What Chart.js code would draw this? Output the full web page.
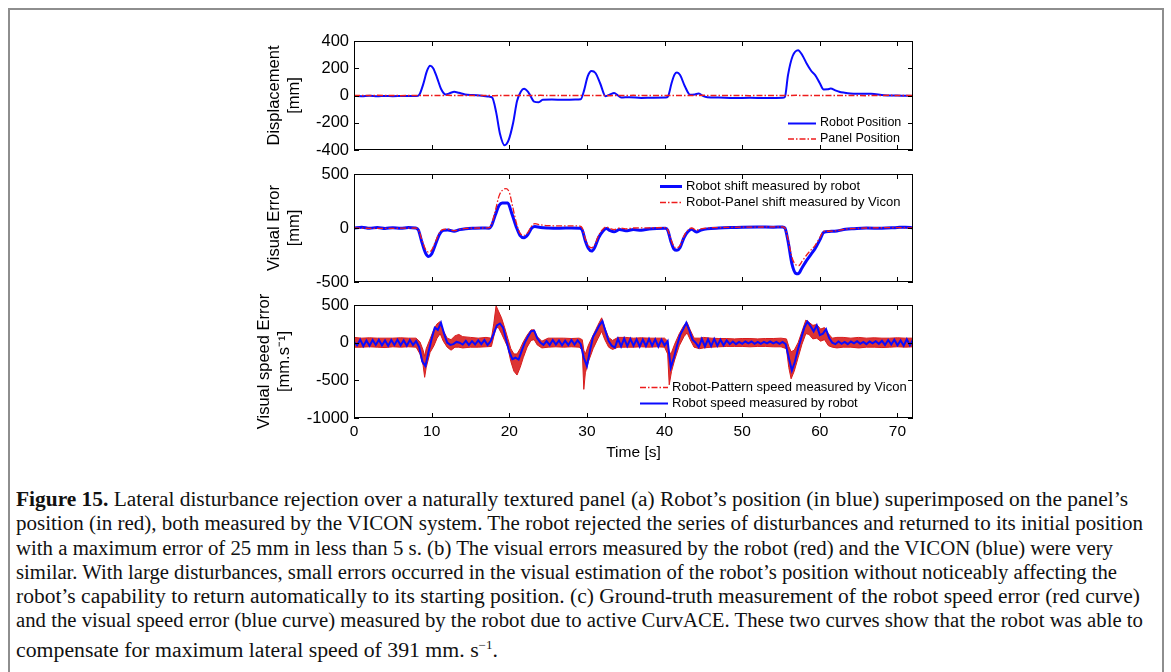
<!DOCTYPE html>
<html>
<head>
<meta charset="utf-8">
<script src="https://cdn.jsdelivr.net/npm/chart.js@4.4.1/dist/chart.umd.min.js"></script>
<style>
  html, body { margin: 0; padding: 0; background: #fff; overflow: hidden; }
  #page { position: relative; width: 1171px; height: 672px; overflow: hidden; background: #fff; }
  #frame { position: absolute; left: 8px; top: 8px; width: 1152px; height: 720px; border: 2px solid #8e8e8e; }
  canvas.panel { position: absolute; }
  #caption { position: absolute; left: 16px; top: 487px; font-family: "Liberation Serif", "DejaVu Serif", serif;
             font-size: 20px; line-height: 24.3px; color: #111; }
  #caption .ln { white-space: nowrap; height: 24.3px; }
  #caption .ln span { display: inline-block; transform-origin: 0 50%; }
</style>
</head>
<body>
<div id="page">
  <div id="frame"></div>
  <canvas id="c1" class="panel" width="690" height="130" style="left:240px;top:30px"></canvas>
  <canvas id="c2" class="panel" width="690" height="132" style="left:240px;top:160px"></canvas>
  <canvas id="c3" class="panel" width="690" height="175" style="left:240px;top:292px"></canvas>
  <div id="caption"></div>
</div>
<script>
// ---- axis ticks ----
const timeTicks  = [0, 10, 20, 30, 40, 50, 60, 70];
const dispTicks  = [-400, -200, 0, 200, 400];
const errTicks   = [-500, 0, 500];
const speedTicks = [-1000, -500, 0, 500];

// ---- (a) displacement [mm] ----
const robotPosT = [0,1,2,3,4,5,6,7,8,8.4,8.9,9.4,9.8,10.2,10.7,11.2,11.8,12.4,12.9,13.5,14.3,15.3,16.5,17.4,17.8,
  18.3,18.8,19.4,19.9,20.5,21.0,21.5,21.9,22.5,23.2,23.8,24.3,25.5,27,28.5,29.2,29.6,30.1,30.6,31.1,31.7,32.4,33.0,
  33.5,34.0,34.4,35.5,37,38.5,40.2,40.5,40.9,41.3,41.6,42.0,42.6,43.3,43.9,44.4,45.0,45.5,47,49,51,53,55.2,55.5,55.9,
  56.5,57.2,57.8,58.3,58.9,59.4,60.0,60.5,61.0,61.4,62.0,62.5,63.2,63.9,65,66.6,68.3,70,72];
const robotPos = [-3,-5,-2,-6,-3,-5,-4,-3,-4,5,80,180,218,200,130,50,8,18,27,20,8,3,-2,-8,-15,
  -120,-280,-365,-330,-200,-40,30,49,20,-45,-50,-32,-30,-32,-30,-28,30,140,179,165,90,-5,8,
  18,0,-15,-12,-18,-16,-15,0,90,155,169,150,70,5,8,14,-5,-12,-15,-18,-17,-18,-17,-10,150,
  290,333,290,235,180,149,90,44,45,51,38,27,20,15,13,12,2,0,-4];
const panelPosT = [0,3,6,9,12,15,18,21,24,27,30,33,36,39,42,45,48,51,54,57,60,63,66,69,72];
const panelPos  = [0,1,-1,0,1,0,-1,0,1,0,0,-1,1,0,0,1,0,-1,0,1,0,0,-1,1,0];

// ---- (b) visual error [mm] ----
const shiftRobotT = [0,1,2,3,4,5,6,7,7.9,8.3,8.7,9.2,9.6,10.0,10.5,11.0,11.5,12.1,12.9,13.6,14.4,15.5,16.5,17.4,17.7,
  18.2,18.7,19.1,19.8,20.3,20.9,21.4,21.9,22.4,22.9,23.3,24,25,26.5,28,29.1,29.4,29.8,30.2,30.6,31.0,31.5,32.0,32.5,
  33.0,33.5,34.2,35,36,37,38,39,40.1,40.4,40.8,41.2,41.6,42.0,42.5,43.0,43.5,44.1,44.7,45.5,47,48.5,50,52,54,55.2,
  55.5,55.9,56.4,56.9,57.2,57.7,58.3,58.9,59.4,60.0,60.5,61.2,62.2,63.3,64.4,66,68,70,71,72];
const shiftRobot = [0,8,-3,5,-4,3,-2,4,0,-20,-120,-230,-263,-240,-150,-60,-22,-18,-31,-15,-6,-2,0,-2,20,
  120,210,232,232,140,10,-70,-90,-60,0,15,5,0,-2,0,-2,-20,-120,-190,-214,-180,-90,-35,-5,
  -25,-35,-15,-25,-15,-20,-10,-5,-3,-20,-120,-195,-207,-180,-90,-35,-12,-37,-20,-8,0,5,8,9,8,9,
  0,-120,-330,-420,-424,-370,-300,-240,-190,-110,-40,-32,-28,-12,-6,0,-3,5,8,3];
const shiftViconT = [0,2,4,6,7.9,8.3,8.7,9.2,9.6,10.0,10.5,11.0,11.5,12.1,12.9,13.6,14.4,16,17.4,17.7,18.2,18.7,19.2,
  19.6,20.0,20.4,20.9,21.4,21.9,22.4,22.9,23.3,24,25,27,29.1,29.4,29.8,30.2,30.6,31.0,31.5,32.0,32.5,33.0,33.5,34.2,
  35,36,38,40.1,40.4,40.8,41.2,41.6,42.0,42.5,43.0,43.5,44.1,44.7,45.5,48,52,55.2,55.5,55.9,56.4,56.9,57.3,57.7,58.3,
  58.9,59.4,60.0,60.5,61.2,62.2,63.3,64.4,66,70,72];
const shiftVicon = [0,-3,-4,-2,0,-15,-100,-195,-223,-205,-125,-45,-12,-10,-25,-12,-4,0,3,30,160,300,355,
  365,330,210,50,-50,-68,-40,20,40,30,22,20,18,0,-100,-165,-183,-155,-70,-15,10,-5,-15,0,
  -8,0,2,3,-15,-100,-170,-183,-160,-75,-20,0,-20,-8,0,5,9,10,0,-100,-270,-340,-347,-310,-250,
  -200,-160,-90,-30,-30,-25,-10,-5,0,3,0];

// ---- (c) visual speed error [mm/s] ----
const speedStep = 0.4;   // robot speed sampled every 0.4 s from t = 0
const speedRobot = [
  10,-35,40,-45,30,-40,35,-30,40,-35,30,-40,35,-30,40,-35,30,-40,35,-30,20,
  -60,-250,-310,-120,50,200,170,265,120,0,-30,-20,10,0,
  -25,25,-30,20,-25,30,-20,35,-30,20,
  120,230,255,200,40,-120,-220,-200,-225,-110,0,80,150,160,60,0,-30,
  20,-30,35,-25,30,-35,25,-30,35,-25,30,-20,
  -200,-310,-100,80,150,230,285,150,20,-40,-65,50,-50,55,-45,50,-40,45,-50,40,-45,50,-40,45,-50,40,-35,20,
  -330,-200,-40,100,180,265,160,40,0,-60,50,-50,45,-45,50,-40,40,-35,30,-20,15,-20,10,-15,15,-10,15,-15,10,-15,10,-10,15,-10,10,-15,10,-20,
  -200,-370,-250,-80,60,200,280,220,150,230,100,120,180,60,0,-20,15,-15,10,-20,15,-10,20,-15,10,-20,15,-10,20,-15,25,-30,35,-25,40,-35,30,-40,45,-35,40
];
// Vicon speed: dense noisy trace, given as its upper / lower envelope
const viconT  = [0,1,2,3,4,5,6,7,8,8.5,8.9,9.1,9.3,9.8,10.3,10.7,11.1,11.5,12.0,12.5,13.0,13.5,14,15,16,17,17.7,
  18.0,18.3,18.6,19.0,19.4,19.8,20.2,20.6,21.0,21.4,21.8,22.3,22.8,23.2,23.6,24.2,25,26,27,28,29,29.4,29.6,29.8,30.2,
  30.8,31.4,31.9,32.3,32.8,33.3,34,35,36,37,38,39,40,40.4,40.6,40.9,41.3,41.9,42.5,42.9,43.3,43.8,44.5,45,46,47,48,
  49,50,51,52,53,54,55,55.7,56.0,56.3,56.7,57.2,57.7,58.2,58.6,59.1,59.6,60.1,60.6,61.1,61.6,62.2,63,64,65,66,67,68,
  69,70,71,72];
const viconHi = [70,60,65,60,60,60,65,60,60,10,-100,-180,-80,50,180,250,280,160,60,40,90,110,80,70,60,70,60,
  250,490,420,330,200,60,-80,-150,-150,-80,10,100,170,170,80,20,60,60,60,55,60,40,-100,-150,-30,
  100,230,330,200,70,30,70,70,60,65,60,60,60,20,-150,-130,-20,120,230,270,170,60,60,70,60,55,55,
  50,55,55,50,55,55,60,50,-50,-120,-100,0,150,300,270,230,240,180,200,120,60,70,70,60,70,60,65,60,
  60,65,60,60];
const viconLo = [-60,-60,-55,-60,-65,-55,-60,-55,-60,-150,-300,-460,-330,-130,-40,60,120,20,-60,-100,-60,-60,-70,-60,-60,-55,-50,
  80,200,200,120,30,-60,-250,-380,-430,-330,-200,-60,30,40,-30,-70,-60,-55,-60,-55,-60,-100,-620,-400,-250,
  -80,50,150,40,-60,-90,-60,-60,-60,-55,-60,-55,-60,-150,-560,-380,-230,-40,80,130,40,-60,-80,-70,-60,-55,-50,
  -50,-50,-55,-50,-50,-55,-55,-80,-330,-480,-380,-200,-20,120,110,50,60,20,40,-40,-60,-70,-60,-60,-70,-60,-60,-65,
  -60,-55,-60,-55];

const BLUE = '#0a0aff';
const RED = '#ee1c1c';
const DASHDOT = [6, 2, 1.5, 2];
const SANS = '"Liberation Sans", Arial, Helvetica, sans-serif';

function pts(xs, ys) { return ys.map((v, i) => ({ x: xs[i], y: v })); }

// inward tick marks on all four sides plus the closed axes box
const boxTicks = {
  id: 'boxTicks',
  afterDatasetsDraw(chart) {
    const { ctx, chartArea: a, scales: { x, y } } = chart;
    const L = 5;
    ctx.save();
    ctx.strokeStyle = '#000';
    ctx.lineWidth = 1;
    ctx.beginPath();
    x.ticks.forEach(t => {
      const px = Math.round(x.getPixelForValue(t.value)) + 0.5;
      ctx.moveTo(px, a.bottom); ctx.lineTo(px, a.bottom - L);
      ctx.moveTo(px, a.top);    ctx.lineTo(px, a.top + L);
    });
    y.ticks.forEach(t => {
      const py = Math.round(y.getPixelForValue(t.value)) + 0.5;
      ctx.moveTo(a.left, py);  ctx.lineTo(a.left + L, py);
      ctx.moveTo(a.right, py); ctx.lineTo(a.right - L, py);
    });
    ctx.stroke();
    ctx.strokeRect(Math.round(a.left) + 0.5, Math.round(a.top) + 0.5,
                   Math.round(a.right - a.left) - 1, Math.round(a.bottom - a.top) - 1);
    ctx.restore();
  }
};

// legend drawn inside the axes: a line sample followed by the dataset label
const insetLegend = {
  id: 'insetLegend',
  afterDraw(chart, args, opts) {
    if (!opts || !opts.items) return;
    const { ctx } = chart;
    ctx.save();
    ctx.font = `${opts.fontSize}px ${SANS}`;
    ctx.textBaseline = 'middle';
    ctx.textAlign = 'left';
    opts.items.forEach((idx, row) => {
      const ds = chart.data.datasets[idx];
      const yy = opts.y + row * opts.rowGap;
      ctx.strokeStyle = ds.legendColor || ds.borderColor;
      ctx.lineWidth = ds.legendWidth || ds.borderWidth;
      ctx.setLineDash(ds.legendDash || ds.borderDash || []);
      ctx.beginPath();
      ctx.moveTo(opts.x, yy + 0.5);
      ctx.lineTo(opts.x + opts.sample, yy + 0.5);
      ctx.stroke();
      ctx.setLineDash([]);
      ctx.fillStyle = '#000';
      ctx.fillText(ds.label, opts.x + opts.sample + 4, yy);
    });
    ctx.restore();
  }
};

// scale edges are set by the layout padding only, not by label overhang
function noOverhang(s) { s.paddingTop = 0; s.paddingBottom = 0; s.paddingLeft = 0; s.paddingRight = 0; }

function scalesFor(yTicks, yMin, yMax, yTitle, titlePad, showX) {
  return {
    x: {
      type: 'linear', min: 0, max: 72,
      afterBuildTicks: s => { s.ticks = timeTicks.map(v => ({ value: v })); },
      grid: { display: false, drawTicks: false },
      border: { display: false },
      ticks: { display: showX, padding: 4, color: '#000', font: { family: SANS, size: 15.5 },
               callback: v => String(v), maxRotation: 0 },
      title: { display: showX, text: 'Time [s]', color: '#000', padding: { top: 0, bottom: 0 },
               font: { family: SANS, size: 15.5, lineHeight: 1.2 } },
      afterFit: s => { s.height = showX ? 44 : 0; noOverhang(s); }
    },
    y: {
      type: 'linear', min: yMin, max: yMax,
      afterBuildTicks: s => { s.ticks = yTicks.map(v => ({ value: v })); },
      grid: { display: false, drawTicks: false },
      border: { display: false },
      ticks: { padding: 5, color: '#000', font: { family: SANS, size: 16.5 }, callback: v => String(v) },
      title: { display: true, text: yTitle, color: '#000', padding: { top: titlePad, bottom: 0 },
               font: { family: SANS, size: 16.5, lineHeight: 1.2 } },
      afterFit: s => { s.width = 114; noOverhang(s); }
    }
  };
}

function baseOptions(scales, padding, legend) {
  return {
    responsive: false, animation: false, devicePixelRatio: 1,
    layout: { padding },
    elements: { point: { radius: 0 } },
    plugins: { legend: { display: false }, tooltip: { enabled: false }, insetLegend: legend },
    scales
  };
}

Chart.register(boxTicks, insetLegend);

// (a) displacement
new Chart(document.getElementById('c1'), {
  type: 'line',
  data: { datasets: [
    { label: 'Robot Position', data: pts(robotPosT, robotPos), borderColor: BLUE, borderWidth: 2,
      cubicInterpolationMode: 'monotone', order: 2 },
    { label: 'Panel Position', data: pts(panelPosT, panelPos), borderColor: RED, borderWidth: 1.5,
      borderDash: DASHDOT, order: 1 }
  ]},
  options: baseOptions(scalesFor(dispTicks, -400, 400, ['Displacement', '[mm]'], 25, false),
    { left: 0, right: 17, top: 11, bottom: 10 },
    { items: [0, 1], x: 548, y: 93, rowGap: 15.5, sample: 28, fontSize: 12.5 })
});

// (b) visual error
new Chart(document.getElementById('c2'), {
  type: 'line',
  data: { datasets: [
    { label: 'Robot shift measured by robot', data: pts(shiftRobotT, shiftRobot), borderColor: BLUE, borderWidth: 3,
      cubicInterpolationMode: 'monotone', order: 2 },
    { label: 'Robot-Panel shift measured by Vicon', data: pts(shiftViconT, shiftVicon), borderColor: RED, borderWidth: 1.3,
      borderDash: DASHDOT, cubicInterpolationMode: 'monotone', order: 1 }
  ]},
  options: baseOptions(scalesFor(errTicks, -500, 500, ['Visual Error', '[mm]'], 25, false),
    { left: 0, right: 17, top: 14, bottom: 10 },
    { items: [0, 1], x: 420, y: 26, rowGap: 16, sample: 22, fontSize: 13 })
});

// (c) visual speed error
new Chart(document.getElementById('c3'), {
  type: 'line',
  data: { datasets: [
    { label: 'Robot speed measured by robot', data: speedRobot.map((v, i) => ({ x: i * speedStep, y: v })),
      borderColor: BLUE, borderWidth: 2, tension: 0, order: 0 },
    { label: 'Robot-Pattern speed measured by Vicon', data: pts(viconT, viconHi), borderColor: '#d81c1c', borderWidth: 1,
      tension: 0, fill: false, order: 1, legendDash: DASHDOT, legendWidth: 1.3, legendColor: RED },
    { label: 'Vicon speed (lower envelope)', data: pts(viconT, viconLo), borderColor: '#d81c1c', borderWidth: 1,
      tension: 0, fill: '-1', backgroundColor: 'rgba(216,30,30,0.9)', order: 2 }
  ]},
  options: baseOptions(scalesFor(speedTicks, -1000, 500, ['Visual speed Error', '[mm.s\u207B\u00B9]'], 15, true),
    { left: 0, right: 17, top: 13, bottom: 5 },
    { items: [1, 0], x: 400, y: 95, rowGap: 16, sample: 28, fontSize: 13 })
});

// caption, one printed line per row, each fitted to its column width
const captionLines = [
  '<b>Figure 15.</b> Lateral disturbance rejection over a naturally textured panel (a) Robot\u2019s position (in blue) superimposed on the panel\u2019s',
  'position (in red), both measured by the VICON system. The robot rejected the series of disturbances and returned to its initial position',
  'with a maximum error of 25 mm in less than 5 s. (b) The visual errors measured by the robot (red) and the VICON (blue) were very',
  'similar. With large disturbances, small errors occurred in the visual estimation of the robot\u2019s position without noticeably affecting the',
  'robot\u2019s capability to return automatically to its starting position. (c) Ground-truth measurement of the robot speed error (red curve)',
  'and the visual speed error (blue curve) measured by the robot due to active CurvACE. These two curves show that the robot was able to',
  'compensate for maximum lateral speed of 391 mm. s<sup style="font-size:12px;vertical-align:8px">\u22121</sup>.'
];
const captionWidths = [1112, 1127, 1097, 1101, 1124, 1127, 482];
const cap = document.getElementById('caption');
captionLines.forEach((html, i) => {
  const row = document.createElement('div');
  row.className = 'ln';
  const sp = document.createElement('span');
  sp.innerHTML = html;
  row.appendChild(sp);
  cap.appendChild(row);
  const w = sp.getBoundingClientRect().width;
  sp.style.transform = `scaleX(${(captionWidths[i] / w).toFixed(4)})`;
});
</script>
</body>
</html>
